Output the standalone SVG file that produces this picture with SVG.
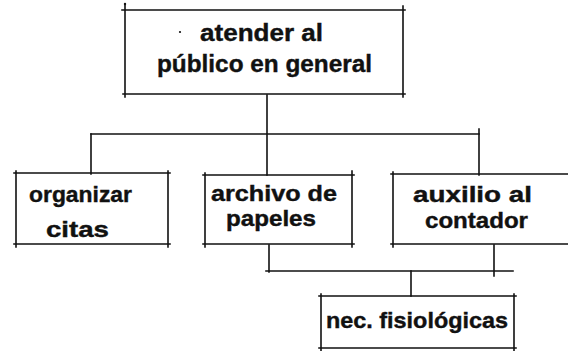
<svg xmlns="http://www.w3.org/2000/svg" width="568" height="351" viewBox="0 0 568 351">
<style>
.b{fill:none;stroke:#111;stroke-width:1.6;stroke-linecap:square}
.t{font-family:"Liberation Sans",Arial,sans-serif;font-weight:bold;fill:#111;stroke:#111;stroke-width:0.4}
</style>
<rect width="568" height="351" fill="#fff"/>
<g id="connectors" class="b">
<path d="M267 95V175"/>
<path d="M91 134H479"/>
<path d="M91 134V174"/>
<path d="M479 129V175"/>
<path d="M269 245V272"/>
<path d="M494 245V276"/>
<path d="M266 271H513"/>
<path d="M411 271V296"/>
</g>
<g id="n1">
<path class="b" d="M122 10H405M123 94H405M125 5V97M403 6V97"/>
<circle cx="125" cy="4" r="1.2" fill="#111"/>
<circle cx="180" cy="32" r="1.1" fill="#111"/>
<text class="t" x="200" y="41" font-size="24" textLength="123" lengthAdjust="spacingAndGlyphs">atender  al</text>
<text class="t" x="157" y="72" font-size="24" textLength="215" lengthAdjust="spacingAndGlyphs">público en general</text>
</g>
<g id="n2">
<path class="b" d="M14 173H170M14 244H170M16 171V247M168 171V247"/>
<text class="t" x="29" y="202" font-size="22" textLength="103" lengthAdjust="spacingAndGlyphs">organizar</text>
<text class="t" x="46" y="237" font-size="22" textLength="63" lengthAdjust="spacingAndGlyphs">citas</text>
</g>
<g id="n3">
<path class="b" d="M203 175H354M203 244H354M205 173V247M352 171V247"/>
<text class="t" x="211" y="201" font-size="22" textLength="126" lengthAdjust="spacingAndGlyphs">archivo  de</text>
<text class="t" x="226" y="226" font-size="22" textLength="90" lengthAdjust="spacingAndGlyphs">papeles</text>
</g>
<g id="n4">
<path class="b" d="M391 174H568M391 244H568M393 172V247"/>
<text class="t" x="413" y="202" font-size="22" textLength="119" lengthAdjust="spacingAndGlyphs">auxilio  al</text>
<text class="t" x="425" y="228" font-size="22" textLength="103" lengthAdjust="spacingAndGlyphs">contador</text>
</g>
<g id="n5">
<path class="b" d="M319 296H516M319 348H516M321 294V351M514 294V351"/>
<text class="t" x="326" y="328" font-size="22" textLength="182" lengthAdjust="spacingAndGlyphs">nec. fisiológicas</text>
</g>
</svg>
